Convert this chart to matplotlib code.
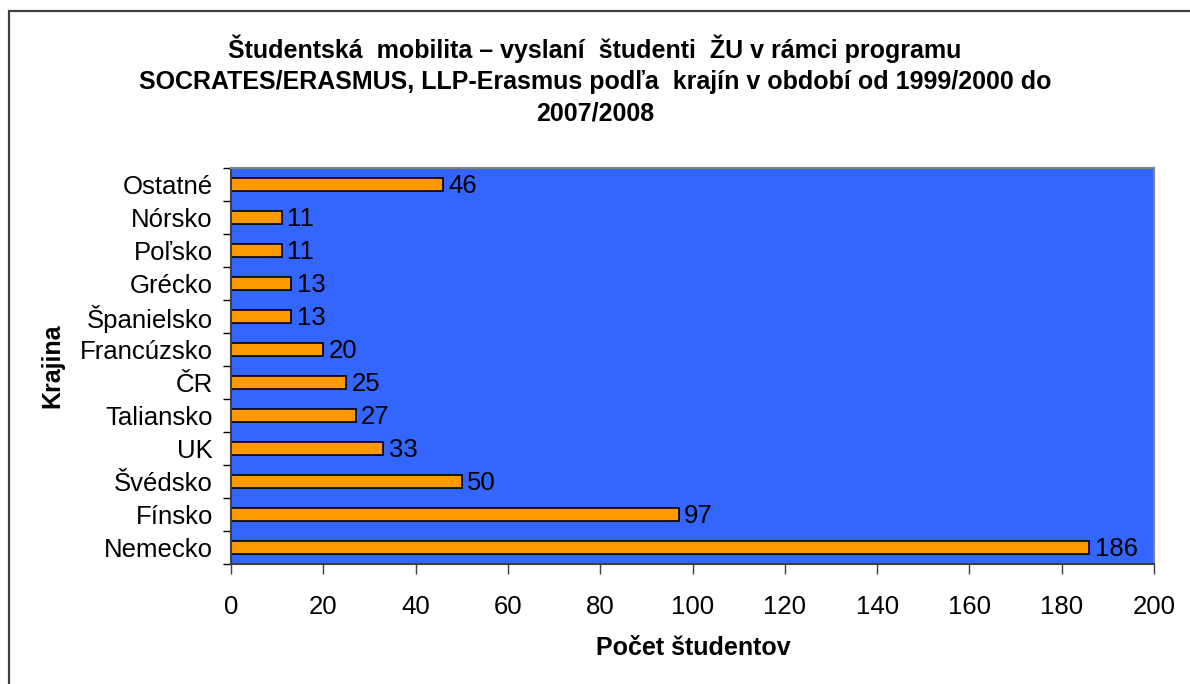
import matplotlib
matplotlib.use("Agg")
import matplotlib.pyplot as plt
from matplotlib.patches import Rectangle

countries = ["Nemecko", "Fínsko", "Švédsko", "UK", "Taliansko", "ČR",
             "Francúzsko", "Španielsko", "Grécko", "Poľsko", "Nórsko", "Ostatné"]
values = [186, 97, 50, 33, 27, 25, 20, 13, 13, 11, 11, 46]
xticks = [0, 20, 40, 60, 80, 100, 120, 140, 160, 180, 200]

title = ("Študentská  mobilita – vyslaní  študenti  ŽU v rámci programu\n"
         "SOCRATES/ERASMUS, LLP-Erasmus podľa  krajín v období od 1999/2000 do\n"
         "2007/2008")

plt.rcParams['font.family'] = ['Liberation Sans', 'DejaVu Sans']

fig = plt.figure(figsize=(11.9, 6.84), dpi=100)
fig.patch.set_facecolor('white')
fig.patches.append(Rectangle((9/1190, -0.05), 1.2, 1 - 11/684 + 0.05, transform=fig.transFigure,
                             fill=False, edgecolor='#404040', linewidth=1.6))

ax = fig.add_axes([231/1190, 1 - 564/684, (1154 - 231)/1190, (564 - 168)/684])
ax.set_facecolor('#3366FF')
pos = list(range(len(countries)))
ax.barh(pos, values, height=0.42, color='#FF9900', edgecolor='black', linewidth=1.2)
for p, v in zip(pos, values):
    ax.text(v + 1.2, p - 0.04, str(v), va='center', ha='left', fontsize=18.5, color='black')

ax.set_xlim(0, 200)
ax.set_ylim(-0.5, len(countries) - 0.5)
ax.set_xticks(xticks)
ax.set_xticklabels([str(t) for t in xticks], fontsize=18.5)
ax.set_yticks(pos)
ax.set_yticklabels(countries, fontsize=18.5)
ax.set_yticks([p - 0.5 for p in pos] + [len(countries) - 0.5], minor=True)
ax.tick_params(axis='y', which='major', length=0, pad=13)
ax.tick_params(axis='y', which='minor', length=6, width=1, color='black')
ax.tick_params(axis='x', length=7, width=1, color='#404040', pad=15)
for s in ['top', 'right']:
    ax.spines[s].set_color('#808080')
    ax.spines[s].set_linewidth(1.5)
for s in ['left', 'bottom']:
    ax.spines[s].set_color('#404040')
    ax.spines[s].set_linewidth(1.5)

fig.text(693/1190, 1 - 648/684, "Počet študentov", ha='center', va='center',
         fontsize=18, fontweight='bold')
fig.text(52/1190, 1 - 366/684, "Krajina", ha='center', va='center', rotation=90,
         fontsize=18, fontweight='bold')
fig.text(595/1190, 1 - 80/684, title, ha='center', va='center', fontsize=18,
         fontweight='bold', linespacing=1.38)

fig.savefig("out.png", dpi=100)
